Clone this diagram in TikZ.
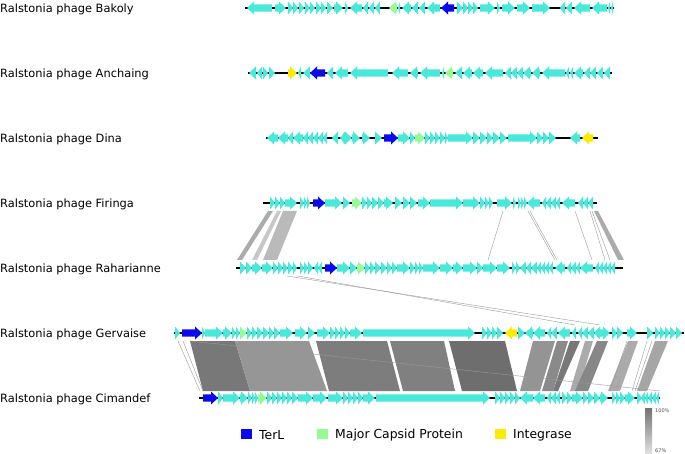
\documentclass[tikz,border=0pt]{standalone}
\usepackage{fontspec}
\setmainfont{DejaVu Sans}

\definecolor{orf}{RGB}{72,232,218}
\definecolor{terl}{RGB}{10,10,235}
\definecolor{mcp}{RGB}{150,250,150}
\definecolor{intg}{RGB}{250,235,0}

% 遺伝子の矢印 (y, start, end, colour)
\newcommand{\gene}[4]{%
  \pgfmathsetmacro{\gdir}{ifthenelse(#3>#2,1,-1)}
  \pgfmathsetmacro{\ghead}{\gdir*min(abs(#3-#2),7)}
  \fill[#4] (#2,#1-3.6) -- ({#3-(\ghead)},#1-3.6) -- ({#3-(\ghead)},#1-6.5)
    -- (#3,#1) -- ({#3-(\ghead)},#1+6.5) -- ({#3-(\ghead)},#1+3.6)
    -- (#2,#1+3.6) -- cycle;
}

\begin{document}
\begin{tikzpicture}[x=1pt,y=-1pt,
    phage/.style={anchor=west,inner sep=0pt,font=\fontsize{11.4}{13}\selectfont},
    legend/.style={anchor=west,inner sep=0pt,font=\fontsize{12.4}{14}\selectfont},
    backbone/.style={line width=1.4pt},
    hit/.style={black!40,line width=0.4pt}]
  \useasboundingbox (0,0) rectangle (685,454);

  % 比較
  \foreach \ya/\yb/\a/\b/\c/\d/\g in {
      211/260/268/273/237/242/33, 211/260/277/281/252/257/22,
      211/260/283/297/263/277/27, 211/260/594/598/618/624/33,
      341/391/190/235/203/250/53, 341/391/235/309/250/327/41,
      341/391/316/387/329/400/51, 341/391/390/444/403/455/50,
      341/391/449/505/462/517/57, 341/391/533/555/520/540/42,
      341/391/557/568/542/553/46, 341/391/570/580/553/558/53,
      341/391/585/593/570/578/33, 341/391/597/608/575/588/47,
      341/391/628/638/608/620/33, 341/391/655/668/637/647/35} {
    \fill[black!\g] (\a,\ya) -- (\b,\ya) -- (\d,\yb) -- (\c,\yb) -- cycle;
  }
  \foreach \ya/\yb/\a/\c in {
      211/260/503/488, 211/260/528/555, 211/260/530/557, 211/260/575/592,
      211/260/590/605, 211/260/592/610,
      276/325/287/600, 276/325/298/575,
      341/391/178/200, 341/391/183/203, 341/391/627/610, 341/391/647/632,
      341/391/652/635, 341/391/190/660} {
    \draw[hit] (\a,\ya) -- (\c,\yb);
  }

  % Bakoly
  \node[phage] (lbBakoly) at (0,9) {Ralstonia phage Bakoly};
  \draw[backbone] (245,8) -- (614,8);
  \foreach \s/\e in {272/247, 275/286, 288/293, 293/298, 299/304, 305/310,
      310/315, 316/321, 321/326, 327/333, 334/343, 345/348, 362/350, 368/363,
      374/369, 380/375, 400/398, 411/402, 418/412, 425/419, 440/427, 457/463,
      463/468, 468/473, 473/478, 480/495, 497/500, 502/515, 517/530, 532/550,
      565/560, 572/566, 590/574, 607/592, 610/608, 613/611}
    \gene{8}{\s}{\e}{orf};
  \gene{8}{397}{389}{mcp}
  \gene{8}{454}{441}{terl}

  % Anchaing
  \node[phage] (lbAnchaing) at (0,74) {Ralstonia phage Anchaing};
  \draw[backbone] (248,73) -- (612,73);
  \foreach \s/\e in {256/249, 262/257, 263/268, 269/275, 301/298, 310/303,
      333/327, 348/335, 388/350, 408/392, 418/410, 440/420, 444/442, 462/455,
      472/463, 483/473, 503/485, 511/505, 517/511, 523/517, 531/523, 540/532,
      565/542, 569/566, 573/570, 583/574, 590/584, 596/590, 603/597, 610/604}
    \gene{73}{\s}{\e}{orf};
  \gene{73}{288}{297}{intg}
  \gene{73}{325}{310}{terl}
  \gene{73}{453}{445}{mcp}

  % Dina
  \node[phage] (lbDina) at (0,139) {Ralstonia phage Dina};
  \draw[backbone] (266,138) -- (598,138);
  \foreach \s/\e in {278/267, 288/278, 293/288, 303/293, 308/303, 313/308,
      318/313, 323/318, 327/323, 338/332, 345/340, 345/352, 352/360, 362/370,
      375/382, 398/410, 410/415, 425/430, 430/435, 435/440, 440/445, 445/448,
      448/473, 473/480, 480/487, 487/493, 493/500, 500/507, 508/537, 537/543,
      543/549, 549/556, 580/570}
    \gene{138}{\s}{\e}{orf};
  \gene{138}{384}{398}{terl}
  \gene{138}{415}{425}{mcp}
  \gene{138}{593}{582}{intg}

  % Firinga
  \node[phage] (lbFiringa) at (0,204) {Ralstonia phage Firinga};
  \draw[backbone] (263,203) -- (597,203);
  \foreach \s/\e in {270/275, 275/280, 280/285, 285/297, 300/304, 304/307,
      307/310, 325/342, 343/350, 362/367, 367/372, 372/378, 378/384, 384/393,
      395/402, 403/410, 410/417, 418/430, 430/463, 463/480, 480/485, 485/489,
      489/493, 497/512, 513/516, 518/521, 521/524, 524/527, 540/527, 546/542,
      551/546, 556/551, 560/556, 575/562, 583/578, 588/583, 593/588}
    \gene{203}{\s}{\e}{orf};
  \gene{203}{313}{325}{terl}
  \gene{203}{352}{362}{mcp}

  % Raharianne
  \node[phage] (lbRaharianne) at (0,269) {Ralstonia phage Raharianne};
  \draw[backbone] (236,268) -- (623,268);
  \foreach \s/\e in {240/246, 246/252, 252/262, 262/273, 273/278, 278/283,
      283/288, 288/293, 293/297, 300/304, 304/308, 308/313, 318/314, 322/318,
      337/350, 350/357, 365/370, 370/375, 375/381, 381/387, 387/392, 392/397,
      397/410, 410/415, 415/419, 419/423, 423/440, 440/453, 453/463, 463/477,
      477/483, 483/497, 497/510, 512/516, 516/520, 526/520, 531/526, 537/531,
      541/537, 545/541, 549/545, 553/549, 565/555, 571/567, 576/571, 580/576,
      593/580, 599/595, 603/599, 607/603, 611/607, 615/611}
    \gene{268}{\s}{\e}{orf};
  \gene{268}{325}{337}{terl}
  \gene{268}{357}{365}{mcp}

  % Gervaise
  \node[phage] (lbGervaise) at (0,334) {Ralstonia phage Gervaise};
  \draw[backbone] (174,333) -- (684,333);
  \foreach \s/\e in {175/180, 202/205, 205/223, 223/232, 232/236, 236/240,
      247/252, 252/257, 257/263, 263/269, 269/274, 274/280, 280/293, 295/307,
      308/315, 317/330, 330/335, 335/340, 340/345, 345/350, 350/362, 363/475,
      482/487, 487/492, 492/497, 497/503, 518/525, 533/525, 545/533, 551/547,
      557/551, 570/558, 576/572, 582/578, 588/582, 594/588, 600/594, 600/610,
      612/617, 617/623, 627/637, 647/653, 655/660, 660/665, 665/670, 670/676,
      676/682}
    \gene{333}{\s}{\e}{orf};
  \gene{333}{182}{202}{terl}
  \gene{333}{240}{247}{mcp}
  \gene{333}{517}{505}{intg}

  % Cimandef
  \node[phage] (lbCimandef) at (0,399) {Ralstonia phage Cimandef};
  \draw[backbone] (199,398) -- (660,398);
  \foreach \s/\e in {218/223, 223/240, 240/248, 248/252, 252/255, 255/258,
      267/272, 272/277, 277/282, 282/287, 287/292, 292/298, 298/313, 313/327,
      328/343, 343/348, 348/353, 353/358, 358/363, 363/375, 376/490, 495/500,
      500/505, 505/510, 510/515, 515/520, 533/520, 545/533, 551/547, 556/551,
      560/556, 562/567, 567/572, 572/583, 583/588, 588/594, 594/600, 600/608,
      612/616, 616/620, 620/625, 625/635, 637/642, 645/641, 648/645, 652/648,
      656/652, 659/656}
    \gene{398}{\s}{\e}{orf};
  \gene{398}{203}{218}{terl}
  \gene{398}{258}{267}{mcp}

  % 凡例
  \fill[terl] (241,429) rectangle (252,439);
  \node[legend] (lgTerL) at (259,435) {TerL};
  \fill[mcp] (317,429) rectangle (328,439);
  \node[legend] (lgMCP) at (335,435) {Major Capsid Protein};
  \fill[intg] (495,429) rectangle (506,439);
  \node[legend] (lgInt) at (513,435) {Integrase};

  \shade[top color=black!55,bottom color=black!12] (645,408) rectangle (652,453);
  \node[anchor=west,inner sep=0pt,font=\fontsize{5}{6}\selectfont,black!70]
    (scTop) at (655,411) {100\%};
  \node[anchor=west,inner sep=0pt,font=\fontsize{5}{6}\selectfont,black!70]
    (scBot) at (655,451) {67\%};
\end{tikzpicture}
\end{document}
